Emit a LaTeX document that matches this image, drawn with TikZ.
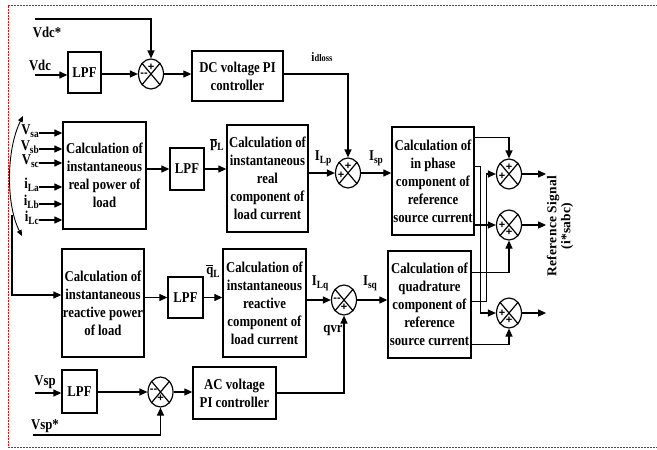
\documentclass[tikz,border=0pt]{standalone}
\usepackage{fontspec}
\setmainfont{Liberation Serif}[FakeStretch=0.85]
\newfontfamily\rotfont{Liberation Serif}[LetterSpace=2]
\newfontfamily\sgnfont{Liberation Sans}
\usetikzlibrary{arrows.meta,shapes.geometric,calc}
\newcommand{\mysub}[1]{\raisebox{-3pt}{\fontsize{11}{11}\selectfont #1}}
\begin{document}
\begin{tikzpicture}[x=1pt,y=-1pt,
 blk/.style={draw, line width=1.3pt, align=center, inner sep=0pt, font=\bfseries\fontsize{15}{18}\selectfont},
 sm/.style={draw, ellipse, line width=1.2pt, minimum width=25pt, minimum height=30pt, inner sep=0pt},
 arr/.style={line width=1.2pt, -{Triangle[length=8pt,width=7pt]}},
 ln/.style={line width=1.2pt},
 lbl/.style={font=\bfseries\fontsize{15}{15}\selectfont, inner sep=0pt},
 sgn/.style={font=\sgnfont\bfseries\fontsize{11}{11}\selectfont, inner sep=0pt}]

\path[use as bounding box] (0,0) rectangle (657,450);
\draw[red, line width=1pt, dash pattern=on 2pt off 1pt] (670,5) -- (8,5) -- (8,447) -- (670,447);

% blocks
\node[blk, minimum width=33pt, minimum height=41pt] (lpf1) at (84.5,72.5) {LPF};
\node[sm] (sum1) at (151,74) {};
\node[blk, minimum width=91pt, minimum height=50pt] (dcpi) at (237.5,76) {DC voltage PI\\controller};
\node[blk, minimum width=83pt, minimum height=107pt] (calcP) at (104.5,175.5) {Calculation of\\instantaneous\\real power of\\load};
\node[blk, minimum width=34pt, minimum height=42pt] (lpf2) at (187,169) {LPF};
\node[blk, minimum width=81pt, minimum height=107pt] (realc) at (267.5,178.5) {Calculation of\\instantaneous\\real\\component of\\load current};
\node[sm] (sum2) at (348,173) {};
\node[blk, minimum width=82pt, minimum height=108pt] (inph) at (433,181) {Calculation of\\in phase\\component of\\reference\\source current};
\node[sm] (sumA) at (509,174) {};
\node[sm] (sumB) at (509,225) {};
\node[sm] (sumC) at (509,313) {};
\node[blk, minimum width=82pt, minimum height=108pt] (calcQ) at (103,303) {Calculation of\\instantaneous\\reactive power\\of load};
\node[blk, minimum width=35pt, minimum height=41pt] (lpf3) at (185.5,297.5) {LPF};
\node[blk, minimum width=83pt, minimum height=108pt] (reactc) at (264.5,303) {Calculation of\\instantaneous\\reactive\\component of\\load current};
\node[sm] (sum3) at (344,300) {};
\node[blk, minimum width=83pt, minimum height=107pt] (quad) at (429.5,304.5) {Calculation of\\quadrature\\component of\\reference\\source current};
\node[blk, minimum width=35pt, minimum height=43pt] (lpf4) at (79.5,391.5) {LPF};
\node[sm] (sum4) at (160.5,392) {};
\node[blk, minimum width=83pt, minimum height=52pt] (acpi) at (234.5,393) {AC voltage\\PI controller};

% summer crosses
\foreach \s in {sum1,sum2,sum3,sum4,sumA,sumB,sumC}{
  \draw[ln] (\s.north east) -- (\s.south west) (\s.north west) -- (\s.south east);
}
% signs
\node[sgn] at ($(sum1)+(0,-7)$) {+};
\node[sgn] at ($(sum1)+(-7,1)$) {--};
\node[sgn] at ($(sum2)+(0,-7)$) {+};
\node[sgn] at ($(sum2)+(-7,2)$) {+};
\node[sgn] at ($(sum3)+(-7,0)$) {--};
\node[sgn] at ($(sum3)+(0,7)$) {+};
\node[sgn] at ($(sum4)+(-7,-1)$) {--};
\node[sgn] at ($(sum4)+(0,6)$) {+};
\node[sgn] at ($(sumA)+(0,-7)$) {+};
\node[sgn] at ($(sumA)+(-7,2)$) {+};
\node[sgn] at ($(sumB)+(-7,0)$) {+};
\node[sgn] at ($(sumB)+(0,7)$) {+};
\node[sgn] at ($(sumC)+(-7,0)$) {+};
\node[sgn] at ($(sumC)+(0,7)$) {+};

% top row
\coordinate (vdcs) at (35,19);
\coordinate (vdc) at (35,75);
\node[lbl] (lvdcs) at (47,32) {Vdc*};
\node[lbl] (lvdc) at (40,65) {Vdc};
\draw[arr] (vdc) -- (vdc -| lpf1.west);
\draw[arr] (vdcs) -| (sum1.north);
\draw[arr] (lpf1.east |- sum1.west) -- (sum1.west);
\draw[arr] (sum1.east) -- (sum1.east -| dcpi.west);
\draw[arr] (dcpi.east |- sum1.east) -| (sum2.north);
\node[lbl] (lidl) at (322,57) {{\fontsize{13}{13}\selectfont i}{\fontsize{10}{10}\selectfont dloss}};

% inputs
\coordinate (ia) at (39,133);
\coordinate (ib) at (39,149);
\coordinate (ic) at (39,163);
\coordinate (id) at (39,187);
\coordinate (ie) at (39,204);
\coordinate (if) at (39,220);
\node[lbl, anchor=east] (la) at ([yshift=2pt]ia) {V\mysub{sa}};
\node[lbl, anchor=east] (lb) at ([yshift=2pt]ib) {V\mysub{sb}};
\node[lbl, anchor=east] (lc) at ([yshift=2pt]ic) {V\mysub{sc}};
\node[lbl, anchor=east] (ld) at ([yshift=2pt]id) {i\mysub{La}};
\node[lbl, anchor=east] (le) at ([yshift=2pt]ie) {i\mysub{Lb}};
\node[lbl, anchor=east] (lf) at ([yshift=2pt]if) {i\mysub{Lc}};
\foreach \c in {ia,ib,ic,id,ie,if}{
  \draw[arr] (\c) -- (\c -| calcP.west);
}
\coordinate (ca) at (23,116);
\coordinate (cb) at (22,236);
\draw[line width=0.9pt, {Triangle[length=6pt,width=5pt]}-{Triangle[length=6pt,width=5pt]}] (ca) .. controls (6,150) and (6,205) .. (cb);
\coordinate (lt) at (12,215);
\draw[arr] (lt) |- ([yshift=8pt]calcQ.west);

% real path
\draw[arr] (calcP.east |- lpf2.west) -- (lpf2.west);
\draw[arr] (lpf2.east) -- (lpf2.east -| realc.west);
\node[lbl] (lpl) at (217,145) {$\overline{\mbox{p}}$\mysub{L}};
\draw[arr] (realc.east |- sum2.west) -- (sum2.west);
\node[lbl] (lilp) at (323,158) {I\mysub{Lp}};
\draw[arr] (sum2.east) -- (sum2.east -| inph.west);
\node[lbl] (lisp) at (376,158) {I\mysub{sp}};

% reactive path
\draw[arr] (calcQ.east |- lpf3.west) -- (lpf3.west);
\draw[arr] (lpf3.east) -- (lpf3.east -| reactc.west);
\node[lbl] (lql) at (213,271) {$\overline{\mbox{q}}$\mysub{L}};
\draw[arr] (reactc.east |- sum3.west) -- (sum3.west);
\node[lbl] (lilq) at (320,283) {I\mysub{Lq}};
\draw[arr] (sum3.east) -- (sum3.east -| quad.west);
\node[lbl] (lisq) at (370,283) {I\mysub{sq}};
\node[lbl] (lqvr) at (333,330) {qvr};

% bottom row
\coordinate (vsp) at (35,393);
\coordinate (vsps) at (33,435);
\node[lbl] (lvsp) at (45,382) {Vsp};
\node[lbl] (lvsps) at (45,426) {Vsp*};
\draw[arr] (vsp) -- (vsp -| lpf4.west);
\draw[arr] (lpf4.east |- sum4.west) -- (sum4.west);
\draw[arr] (sum4.east) -- (sum4.east -| acpi.west);
\draw[arr] (vsps) -| (sum4.south);
\draw[arr] (acpi.east) -| (sum3.south);

% right side
\draw[arr] ([yshift=-11pt]inph.north east) -| (sumA.north);
\draw[arr] ([yshift=-40pt]inph.north east) -- ++(6,0) |- (sumC.west);
\draw[arr] (inph.east |- sumB.west) -- (sumB.west);
\draw[arr] ([yshift=-22pt]quad.north east) -| (sumB.south);
\draw[arr] ([yshift=-51pt]quad.north east) -- ++(15,0) |- (sumA.west);
\draw[arr] ([yshift=-94pt]quad.north east) -| (sumC.south);
\draw[arr] (sumA.east) -- ++(24,0);
\draw[arr] (sumB.east) -- ++(24,0);
\draw[arr] (sumC.east) -- ++(24,0);
\node[rotate=90, align=center, inner sep=0pt, font=\rotfont\bfseries\fontsize{13.5}{14}\selectfont] (lref) at (560,226) {Reference Signal\\(i*sabc)};
\end{tikzpicture}
\end{document}
